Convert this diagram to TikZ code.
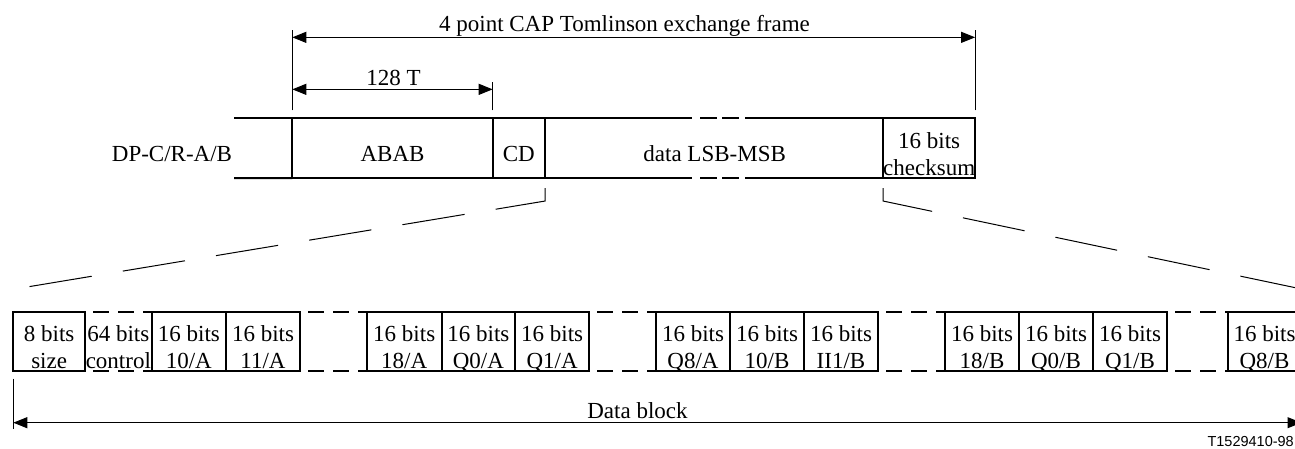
\documentclass[tikz,border=0pt]{standalone}
\usepackage{fontspec}
\setmainfont{Liberation Serif}
\newfontfamily\tagfont{Liberation Sans}
\usetikzlibrary{arrows.meta}

\begin{document}
\begin{tikzpicture}[x=1pt, y=-1pt,
        cell/.style={draw, line width=2pt, inner sep=0pt, outer sep=0pt, align=center,
                     font=\fontsize{23}{27}\selectfont},
        topcell/.style={cell, minimum height=59.7pt, text height=27pt, text depth=0pt},
        topcelltwo/.style={cell, minimum height=59.7pt, text height=54pt, text depth=0pt},
        botcell/.style={cell, minimum height=59pt, text height=55pt, text depth=0pt},
        lbl/.style={font=\fontsize{23}{27}\selectfont, inner sep=0pt, anchor=base},
        thin/.style={line width=1pt},
        dim/.style={thin, {Triangle[length=14pt,width=11pt]}-{Triangle[length=14pt,width=11pt]}},
        frame/.style={line width=2pt},
        datafrm/.style={line width=2pt,
                        dash pattern=on 147pt off 8pt on 17pt off 5pt on 17pt off 6pt on 200pt},
        gapline/.style={line width=2pt, dash pattern=on 16pt off 9pt, dash phase=17pt},
        zoomline/.style={line width=1pt, dash pattern=on 63pt off 31.5pt}
    ]
    \useasboundingbox (0,0) rectangle (1295,449);

    % ---- Exchange frame ----
    \node[lbl] (dp) at (172,161.7) {DP-C/R-A/B};
    \node[topcell, minimum width=200.4pt] (abab) at (392.5,148.2) {ABAB};
    \node[topcell, minimum width=52.3pt] (cd) at (518.85,148.2) {CD};
    \node[topcell, draw=none, minimum width=339.3pt] (data) at (714.65,148.2) {data LSB-MSB};
    \node[topcelltwo, minimum width=89.7pt] (chk) at (929.15,148.2) {16 bits\\checksum};

    \coordinate (leadt) at (234,118.35);
    \coordinate (leadb) at (234,178.05);
    \draw[frame] (leadt) -- (abab.north west);
    \draw[frame] (leadb) -- (abab.south west);
    \draw[datafrm] (data.north west) -- (data.north east);
    \draw[datafrm] (data.south west) -- (data.south east);

    % ---- Dimensions ----
    \draw[thin] ([yshift=8pt]abab.north west) -- ([yshift=88pt]abab.north west);
    \draw[thin] ([yshift=8pt]chk.north east) -- ([yshift=88pt]chk.north east);
    \draw[thin] ([yshift=8pt]abab.north east) -- ([yshift=36pt]abab.north east);
    \draw[dim] ([yshift=81pt]abab.north west) -- ([yshift=81pt]chk.north east);
    \draw[dim] ([yshift=29pt]abab.north west) -- ([yshift=29pt]abab.north east);
    \node[lbl] (frm) at (624.5,31.7) {4 point CAP Tomlinson exchange frame};
    \node[lbl] (t128) at (393.5,86) {128 T};

    % ---- Data block cells ----
    \node[botcell, minimum width=71.7pt] (sz) at (49.15,341.2) {8 bits\\size};
    \node[botcell, draw=none, minimum width=66.7pt] (ctl) at (118.35,341.2) {64 bits\\control};
    \node[botcell, minimum width=74.3pt] (i0a) at (188.85,341.2) {16 bits\\10/A};
    \node[botcell, minimum width=74pt] (i1a) at (263,341.2) {16 bits\\11/A};
    \node[botcell, minimum width=75pt] (i8a) at (404.2,341.2) {16 bits\\18/A};
    \node[botcell, minimum width=73.3pt] (q0a) at (478.35,341.2) {16 bits\\Q0/A};
    \node[botcell, minimum width=74.3pt] (q1a) at (552.15,341.2) {16 bits\\Q1/A};
    \node[botcell, minimum width=74pt] (q8a) at (693,341.2) {16 bits\\Q8/A};
    \node[botcell, minimum width=74pt] (i0b) at (767,341.2) {16 bits\\10/B};
    \node[botcell, minimum width=74pt] (i1b) at (841,341.2) {16 bits\\II1/B};
    \node[botcell, minimum width=74pt] (i8b) at (982,341.2) {16 bits\\18/B};
    \node[botcell, minimum width=74pt] (q0b) at (1056,341.2) {16 bits\\Q0/B};
    \node[botcell, minimum width=74pt] (q1b) at (1130,341.2) {16 bits\\Q1/B};
    \node[botcell, minimum width=74pt] (q8b) at (1264.5,341.2) {16 bits\\Q8/B};

    % dashed gaps
    \draw[gapline] (sz.north east) -- (i0a.north west);
    \draw[gapline] (sz.south east) -- (i0a.south west);
    \draw[gapline] (i1a.north east) -- (i8a.north west);
    \draw[gapline] (i1a.south east) -- (i8a.south west);
    \draw[gapline] (q1a.north east) -- (q8a.north west);
    \draw[gapline] (q1a.south east) -- (q8a.south west);
    \draw[gapline] (i1b.north east) -- (i8b.north west);
    \draw[gapline] (i1b.south east) -- (i8b.south west);
    \draw[gapline] (q1b.north east) -- (q8b.north west);
    \draw[gapline] (q1b.south east) -- (q8b.south west);

    % ---- Expansion lines ----
    \coordinate (zl) at (27,287);
    \coordinate (zr) at (1301.5,289);
    \draw[zoomline] ([yshift=-10pt]cd.south east) -- ([yshift=-23pt]cd.south east) -- (zl);
    \draw[zoomline] ([yshift=-10pt]chk.south west) -- ([yshift=-23pt]chk.south west) -- (zr);

    % ---- Data block span ----
    \draw[thin] ([yshift=-8pt]sz.south west) -- ([yshift=-58pt]sz.south west);
    \draw[thin] ([yshift=-8pt]q8b.south east) -- ([yshift=-58pt]q8b.south east);
    \draw[dim] ([yshift=-52pt]sz.south west) -- ([yshift=-52pt]q8b.south east);
    \node[lbl] (blk) at (637.5,418) {Data block};

    \node[font=\tagfont\fontsize{14.5}{17}\selectfont, inner sep=0pt, anchor=base east] (tag)
        at (1294,446.5) {T1529410-98};
\end{tikzpicture}
\end{document}
